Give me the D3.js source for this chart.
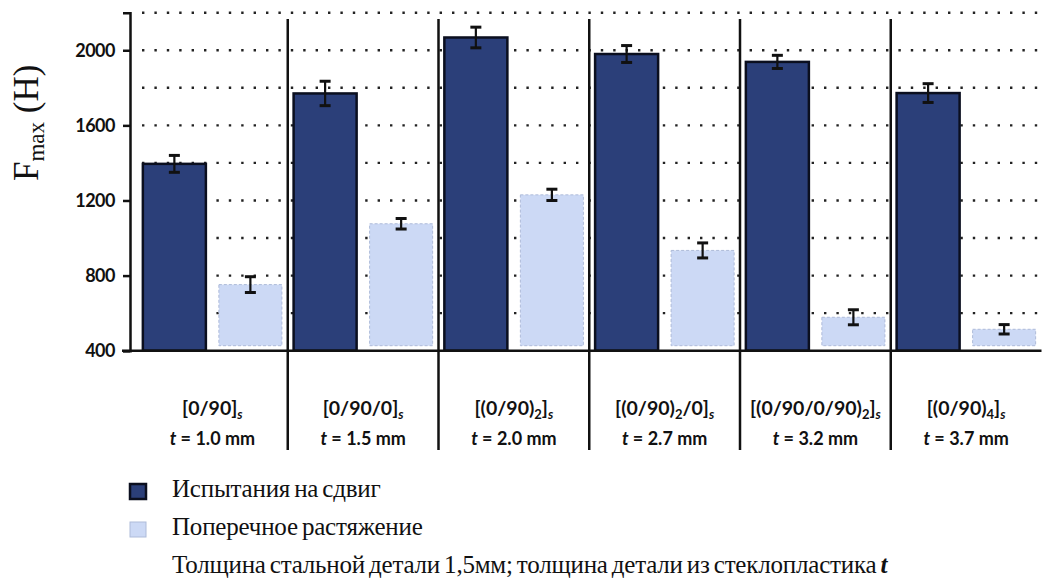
<!DOCTYPE html>
<html>
<head>
<meta charset="utf-8">
<script src="https://cdn.jsdelivr.net/npm/d3@7"></script>
<style>
  html, body { margin: 0; padding: 0; background: #fff; }
  svg { display: block; }
</style>
</head>
<body>
<svg id="chart" width="1044" height="578"></svg>
<script>
// ---------------- data ----------------
const layups = ["[0/90]_s", "[0/90/0]_s", "[(0/90)_2]_s", "[(0/90)_2/0]_s", "[(0/90/0/90)_2]_s", "[(0/90)_4]_s"];
const thickness = ["1.0", "1.5", "2.0", "2.7", "3.2", "3.7"];
const shear = [1395, 1770, 2068, 1980, 1938, 1772];
const shearErr = [45, 65, 55, 45, 35, 50];
const transverse = [752, 1076, 1230, 934, 578, 514];
const transverseErr = [42, 28, 30, 40, 40, 25];
const yTicks = [400, 800, 1200, 1600, 2000];
const gridValues = [600, 800, 1000, 1200, 1400, 1600, 1800, 2000, 2200];
const seriesNames = ["Испытания на сдвиг", "Поперечное растяжение"];
const noteText = "Толщина стальной детали 1,5мм; толщина детали из стеклопластика ";
const noteVar = "t";

// ---------------- layout ----------------
const svg = d3.select("#chart");
const x0 = d3.scaleBand().domain(d3.range(layups.length)).range([137, 1041.5]).padding(0);
const x1 = d3.scaleBand().domain([0, 1]).range([0, x0.bandwidth()]).paddingInner(0.171).paddingOuter(0.077);
const y = d3.scaleLinear().domain([400, 2200]).range([350.7, 12.7]);
const colors = { dark: "#2b3f79", darkStroke: "#0b0f1f", light: "#ccd9f5", lightStroke: "#aebbd9" };

// dotted grid
svg.append("g").selectAll("line").data(gridValues).join("line")
  .attr("x1", 142).attr("x2", 1040)
  .attr("y1", d => y(d)).attr("y2", d => y(d))
  .attr("stroke", "#222").attr("stroke-width", 2.4)
  .attr("stroke-dasharray", "2.4,10").attr("stroke-linecap", "butt");

// bars
const groups = svg.append("g").selectAll("g").data(layups.map((d, i) => i)).join("g")
  .attr("transform", i => `translate(${x0(i)},0)`);

groups.append("rect")
  .attr("x", x1(0)).attr("width", x1.bandwidth())
  .attr("y", i => y(shear[i])).attr("height", i => y(400) - y(shear[i]))
  .attr("fill", colors.dark).attr("stroke", colors.darkStroke).attr("stroke-width", 2.5);

groups.append("rect")
  .attr("x", x1(1)).attr("width", x1.bandwidth())
  .attr("y", i => y(transverse[i])).attr("height", i => y(400) - y(transverse[i]) - 5)
  .attr("fill", colors.light).attr("stroke", colors.lightStroke).attr("stroke-width", 1)
  .attr("stroke-dasharray", "3,2");

function errBar(g, cx, v, e) {
  g.append("line").attr("x1", cx).attr("x2", cx).attr("y1", y(v + e)).attr("y2", y(v - e))
    .attr("stroke", "#111").attr("stroke-width", 2.2);
  [v + e, v - e].forEach(val => {
    g.append("line").attr("x1", cx - 5.5).attr("x2", cx + 5.5).attr("y1", y(val)).attr("y2", y(val))
      .attr("stroke", "#111").attr("stroke-width", 3);
  });
}
groups.each(function(i) {
  const g = d3.select(this);
  errBar(g, x1(0) + x1.bandwidth() / 2, shear[i], shearErr[i]);
  errBar(g, x1(1) + x1.bandwidth() / 2, transverse[i], transverseErr[i]);
});

// separators
svg.append("g").selectAll("line").data(d3.range(1, layups.length)).join("line")
  .attr("x1", i => x0(i)).attr("x2", i => x0(i))
  .attr("y1", 19).attr("y2", 450)
  .attr("stroke", "#111").attr("stroke-width", 2.5);

// y axis
const yAxis = svg.append("g").attr("transform", "translate(130,0)")
  .call(d3.axisLeft(y).tickValues(yTicks).tickSizeOuter(0).tickSize(7).tickPadding(8).tickFormat(d3.format("d")));
yAxis.select(".domain").attr("stroke", "#111").attr("stroke-width", 2.5);
yAxis.selectAll(".tick line").attr("stroke", "#111").attr("stroke-width", 2.5);
yAxis.selectAll(".tick text").attr("font-family", "Lato").attr("font-weight", 700)
  .attr("font-size", 18).attr("fill", "#111").attr("letter-spacing", "-0.5");

// x axis baseline
svg.append("line").attr("x1", 122).attr("x2", x0.range()[1])
  .attr("y1", y(400)).attr("y2", y(400)).attr("stroke", "#111").attr("stroke-width", 2.5);

// y axis title
const yt = svg.append("text").attr("transform", "translate(38,181) rotate(-90)")
  .attr("font-family", "Liberation Serif").attr("font-size", 35).attr("fill", "#111");
yt.append("tspan").text("F");
yt.append("tspan").attr("font-size", 23).attr("dy", 6).text("max");
yt.append("tspan").attr("dy", -6).text(" (H)");

// category labels
const catG = svg.append("g").attr("font-family", "Lato").attr("font-weight", 700)
  .attr("fill", "#111").attr("text-anchor", "middle");
layups.forEach((lab, i) => {
  const cx = x0(i) + x0.bandwidth() / 2;
  const t1 = catG.append("text").attr("x", cx).attr("y", 415).attr("font-size", 19.5);
  const parts = lab.split(/(_[0-9a-z])/).filter(s => s.length);
  let sub = false;
  parts.forEach(p => {
    if (p[0] === "_") {
      t1.append("tspan").attr("dy", sub ? 0 : 4).attr("font-size", 13)
        .attr("font-style", p[1] === "s" ? "italic" : "normal").text(p.slice(1));
      sub = true;
    } else {
      t1.append("tspan").attr("dy", sub ? -4 : 0).text(p);
      sub = false;
    }
  });
  const t2 = catG.append("text").attr("x", cx).attr("y", 445).attr("font-size", 18);
  t2.append("tspan").attr("font-style", "italic").text("t");
  t2.append("tspan").text(` = ${thickness[i]} mm`);
});

// legend
const legG = svg.append("g");
const legFill = [colors.dark, colors.light];
const legStroke = [colors.darkStroke, colors.lightStroke];
seriesNames.forEach((name, i) => {
  const by = 497 + i * 38;
  legG.append("rect").attr("x", 130).attr("y", by - 13).attr("width", 16).attr("height", 15)
    .attr("fill", legFill[i]).attr("stroke", legStroke[i]).attr("stroke-width", i === 0 ? 2.5 : 1);
  legG.append("text").attr("x", 172).attr("y", by)
    .attr("font-family", "Liberation Serif").attr("font-size", 25).attr("fill", "#111")
    .attr("letter-spacing", "-0.2").attr("word-spacing", "-2").text(name);
});
const note = legG.append("text").attr("x", 172).attr("y", 573)
  .attr("font-family", "Liberation Serif").attr("font-size", 25).attr("fill", "#111")
  .attr("letter-spacing", "-0.2").attr("word-spacing", "-2");
note.append("tspan").text(noteText);
note.append("tspan").attr("font-style", "italic").attr("font-weight", 700).text(noteVar);
</script>
</body>
</html>
